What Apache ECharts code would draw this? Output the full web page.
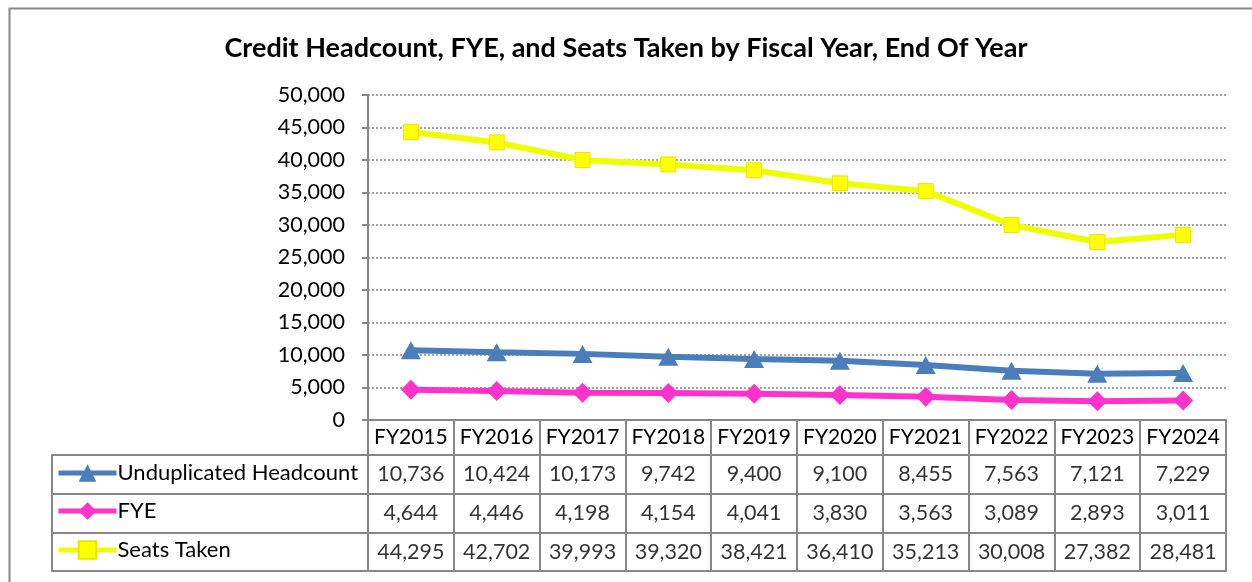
<!DOCTYPE html>
<html>
<head>
<meta charset="utf-8">
<style>
  html, body { margin: 0; padding: 0; background: #fff; }
  #main { width: 1252px; height: 582px; }
</style>
<script src="https://cdn.jsdelivr.net/npm/echarts@6/dist/echarts.min.js"></script>
</head>
<body>
<div id="main"></div>
<script>
var years = ['FY2015','FY2016','FY2017','FY2018','FY2019','FY2020','FY2021','FY2022','FY2023','FY2024'];
var headcount = [10736, 10424, 10173, 9742, 9400, 9100, 8455, 7563, 7121, 7229];
var fye = [4644, 4446, 4198, 4154, 4041, 3830, 3563, 3089, 2893, 3011];
var seats = [44295, 42702, 39993, 39320, 38421, 36410, 35213, 30008, 27382, 28481];
var rowNames = ['Unduplicated Headcount', 'FYE', 'Seats Taken'];

var FONT = 'Lato';
var GRAY = '#878787';
var fmt = function (v) { return Number(v).toLocaleString('en-US'); };

var myChart = echarts.init(document.getElementById('main'));

// table body: one invisible scatter per row, the value shown as a label in each cell
function tableRow(name, values) {
    return {
        name: name + ' (table)',
        type: 'scatter',
        xAxisIndex: 1,
        yAxisIndex: 1,
        symbolSize: 1,
        itemStyle: { color: 'rgba(0,0,0,0)' },
        silent: true,
        label: {
            show: true,
            position: 'inside',
            color: '#000',
            fontFamily: FONT,
            fontSize: 21.5,
            formatter: function (p) { return fmt(p.value[2]); }
        },
        labelLayout: { hideOverlap: false },
        data: values.map(function (v, i) { return [years[i], name, v]; })
    };
}

function legendFor(name, top) {
    return {
        data: [name],
        left: 56,
        top: top,
        itemWidth: 58,
        itemHeight: 22,
        itemGap: 0,
        padding: 0,
        lineStyle: { width: 5 },
        textStyle: { fontFamily: FONT, fontSize: 22, color: '#000', padding: [0, 0, 0, -4] },
        selectedMode: false
    };
}

option = {
    backgroundColor: '#fff',
    animation: false,
    title: {
        text: 'Credit Headcount, FYE, and Seats Taken by Fiscal Year, End Of Year',
        left: 'center',
        top: 30,
        textStyle: { fontFamily: FONT, fontWeight: 'bold', fontSize: 27, color: '#000' }
    },
    legend: [
        legendFor(rowNames[0], 462),
        legendFor(rowNames[1], 500),
        legendFor(rowNames[2], 539)
    ],
    graphic: [{
        type: 'rect',
        left: 7, top: 6,
        shape: { width: 1300, height: 700 },
        style: { fill: null, stroke: GRAY, lineWidth: 2 },
        silent: true
    }],
    grid: [
        { left: 368, right: 26, top: 95, bottom: 162 },
        { left: 368, right: 26, top: 455, bottom: 11 }
    ],
    xAxis: [{
        type: 'category',
        gridIndex: 0,
        data: years,
        boundaryGap: true,
        axisLine: { lineStyle: { color: GRAY, width: 2 } },
        axisTick: { show: true, interval: 0, length: 35, lineStyle: { color: GRAY, width: 2 } },
        axisLabel: { interval: 0, color: '#000', fontFamily: FONT, fontSize: 21, margin: 7 }
    }, {
        type: 'category',
        gridIndex: 1,
        data: years,
        boundaryGap: true,
        axisLine: { lineStyle: { color: GRAY, width: 2 } },
        axisTick: { show: false, interval: 0 },
        axisLabel: { show: false, interval: 0 },
        splitLine: { show: true, interval: 0, lineStyle: { color: GRAY, width: 2 } }
    }],
    yAxis: [{
        type: 'value',
        gridIndex: 0,
        min: 0,
        max: 50000,
        interval: 5000,
        axisLine: { show: true, lineStyle: { color: GRAY, width: 2 } },
        axisTick: { show: true, length: 6, lineStyle: { color: GRAY, width: 2 } },
        axisLabel: { color: '#000', fontFamily: FONT, fontSize: 21.5, margin: 23, formatter: fmt },
        splitLine: { show: true, lineStyle: { color: GRAY, width: 1.5, type: [2, 2] } }
    }, {
        type: 'category',
        gridIndex: 1,
        data: rowNames,
        inverse: true,
        boundaryGap: true,
        axisLine: { show: true, lineStyle: { color: GRAY, width: 2 } },
        axisTick: { show: true, interval: 0, length: 316, lineStyle: { color: GRAY, width: 2 } },
        axisLabel: { show: false },
        splitLine: { show: true, interval: 0, lineStyle: { color: GRAY, width: 2 } }
    }, {
        type: 'category',
        gridIndex: 1,
        data: rowNames,
        inverse: true,
        position: 'left',
        offset: 316,
        axisLine: { show: true, lineStyle: { color: GRAY, width: 2 } },
        axisTick: { show: false },
        axisLabel: { show: false }
    }],
    series: [{
        name: rowNames[0],
        type: 'line',
        data: headcount,
        symbol: 'triangle',
        symbolSize: [20, 18],
        lineStyle: { color: '#4A7EBB', width: 6 },
        itemStyle: { color: '#4A7EBB' }
    }, {
        name: rowNames[1],
        type: 'line',
        data: fye,
        symbol: 'diamond',
        symbolSize: [20, 20],
        lineStyle: { color: '#FF33CC', width: 6 },
        itemStyle: { color: '#FF33CC' }
    }, {
        name: rowNames[2],
        type: 'line',
        data: seats,
        symbol: 'rect',
        symbolSize: 15,
        lineStyle: { color: '#EEFF00', width: 6 },
        itemStyle: { color: '#FFFF00', borderColor: '#E6E600', borderWidth: 1 }
    },
    tableRow(rowNames[0], headcount),
    tableRow(rowNames[1], fye),
    tableRow(rowNames[2], seats)
    ]
};
myChart.setOption(option);
</script>
</body>
</html>
